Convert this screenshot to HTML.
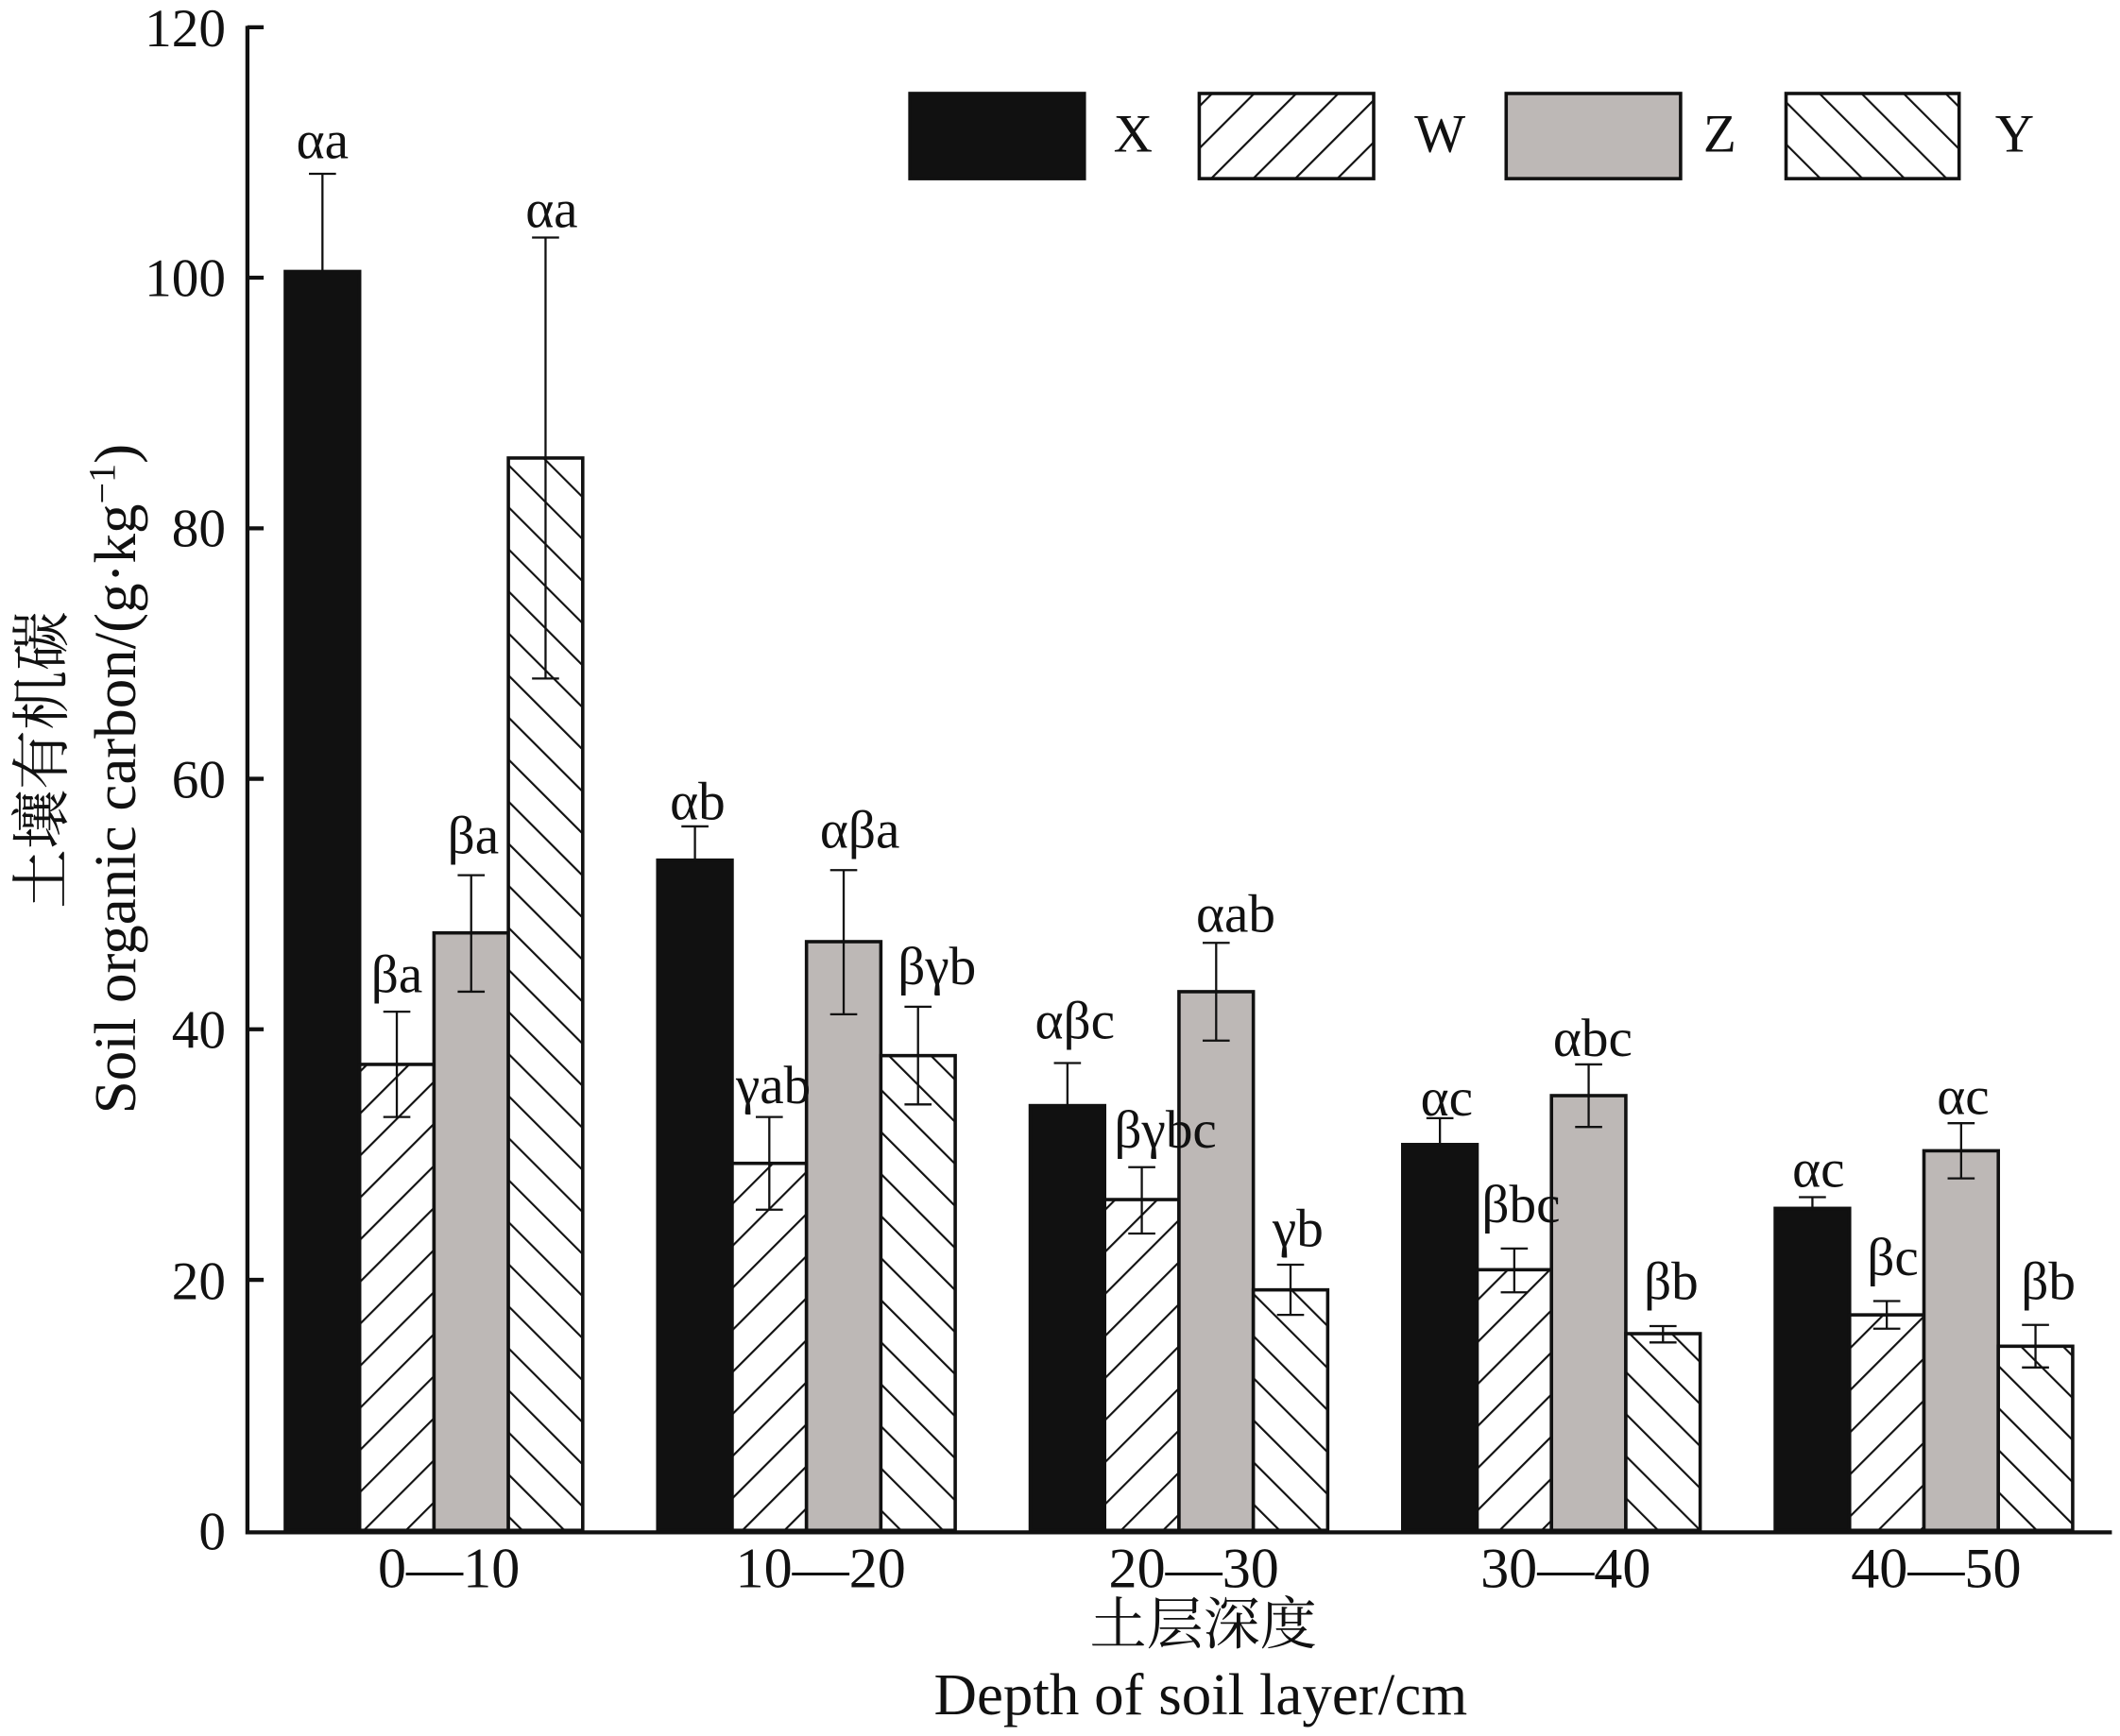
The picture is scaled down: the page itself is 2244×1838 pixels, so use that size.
<!DOCTYPE html>
<html><head><meta charset="utf-8"><style>html,body{margin:0;padding:0;background:#fff}svg{display:block}</style></head><body>
<svg width="2244" height="1838" viewBox="0 0 1568 1284" xmlns="http://www.w3.org/2000/svg" font-family="'Liberation Serif','Noto Serif CJK SC',serif">
<defs>
<pattern id="hw" patternUnits="userSpaceOnUse" width="22" height="22" patternTransform="rotate(45)"><rect width="22" height="22" fill="#fff"/><line x1="0" y1="0" x2="0" y2="22" stroke="#111" stroke-width="3"/></pattern>
<pattern id="hy" patternUnits="userSpaceOnUse" width="22" height="22" patternTransform="rotate(-45)"><rect width="22" height="22" fill="#fff"/><line x1="0" y1="0" x2="0" y2="22" stroke="#111" stroke-width="3"/></pattern>
</defs>
<g stroke="#111" stroke-width="2.5">
<rect x="211" y="200.7" width="55" height="931.3" fill="#111"/>
<rect x="266" y="787.3" width="55" height="344.7" fill="url(#hw)"/>
<rect x="321" y="690" width="55" height="442" fill="#bdb8b6"/>
<rect x="376" y="338.7" width="55" height="793.3" fill="url(#hy)"/>
<rect x="486.5" y="636.2" width="55" height="495.8" fill="#111"/>
<rect x="541.5" y="860.5" width="55" height="271.5" fill="url(#hw)"/>
<rect x="596.5" y="696.5" width="55" height="435.5" fill="#bdb8b6"/>
<rect x="651.5" y="780.8" width="55" height="351.2" fill="url(#hy)"/>
<rect x="762" y="817.8" width="55" height="314.2" fill="#111"/>
<rect x="817" y="887.3" width="55" height="244.7" fill="url(#hw)"/>
<rect x="872" y="733.5" width="55" height="398.5" fill="#bdb8b6"/>
<rect x="927" y="954.1" width="55" height="177.9" fill="url(#hy)"/>
<rect x="1037.5" y="846.6" width="55" height="285.4" fill="#111"/>
<rect x="1092.5" y="939.2" width="55" height="192.8" fill="url(#hw)"/>
<rect x="1147.5" y="810.4" width="55" height="321.6" fill="#bdb8b6"/>
<rect x="1202.5" y="986.5" width="55" height="145.5" fill="url(#hy)"/>
<rect x="1313" y="893.8" width="55" height="238.2" fill="#111"/>
<rect x="1368" y="972.6" width="55" height="159.4" fill="url(#hw)"/>
<rect x="1423" y="851.2" width="55" height="280.8" fill="#bdb8b6"/>
<rect x="1478" y="995.8" width="55" height="136.2" fill="url(#hy)"/>
</g>
<g stroke="#111" stroke-width="1.6" fill="none">
<path d="M238.5 200.7V128.4M228.5 128.4h20"/>
<path d="M293.5 826.2V748.3M283.5 748.3h20M283.5 826.2h20"/>
<path d="M348.5 733.5V647.3M338.5 647.3h20M338.5 733.5h20"/>
<path d="M403.5 501.8V175.6M393.5 175.6h20M393.5 501.8h20"/>
<path d="M514 636.2V611.2M504 611.2h20"/>
<path d="M569 894.8V826.2M559 826.2h20M559 894.8h20"/>
<path d="M624 750.2V643.6M614 643.6h20M614 750.2h20"/>
<path d="M679 816.9V744.6M669 744.6h20M669 816.9h20"/>
<path d="M789.5 817.8V786.3M779.5 786.3h20"/>
<path d="M844.5 912.4V863.3M834.5 863.3h20M834.5 912.4h20"/>
<path d="M899.5 769.7V697.4M889.5 697.4h20M889.5 769.7h20"/>
<path d="M954.5 972.6V935.5M944.5 935.5h20M944.5 972.6h20"/>
<path d="M1065 846.6V827.1M1055 827.1h20"/>
<path d="M1120 955.9V923.5M1110 923.5h20M1110 955.9h20"/>
<path d="M1175 833.6V787.3M1165 787.3h20M1165 833.6h20"/>
<path d="M1230 993V980.9M1220 980.9h20M1220 993h20"/>
<path d="M1340.5 893.8V885.5M1330.5 885.5h20"/>
<path d="M1395.5 982.8V962.4M1385.5 962.4h20M1385.5 982.8h20"/>
<path d="M1450.5 871.6V830.8M1440.5 830.8h20M1440.5 871.6h20"/>
<path d="M1505.5 1011.5V980M1495.5 980h20M1495.5 1011.5h20"/>
</g>
<g stroke="#111" stroke-width="3" fill="none">
<path d="M183 19V1133.5H1562"/>
<path d="M183 20h12M183 205.3h12M183 390.7h12M183 576h12M183 761.3h12M183 946.7h12"/>
</g>
<g font-size="40" fill="#111" text-anchor="end">
<text x="167" y="34">120</text><text x="167" y="219">100</text><text x="167" y="404">80</text>
<text x="167" y="590">60</text><text x="167" y="775">40</text><text x="167" y="961">20</text><text x="167" y="1146">0</text>
</g>
<g font-size="40" fill="#111" text-anchor="middle">
<text x="238.5" y="117">αa</text><text x="293.5" y="734">βa</text><text x="350" y="631">βa</text><text x="408" y="168">αa</text>
<text x="516" y="606">αb</text><text x="572" y="816">γab</text><text x="636" y="627">αβa</text><text x="693" y="728">βγb</text>
<text x="795" y="768">αβc</text><text x="862" y="849">βγbc</text><text x="914" y="689">αab</text><text x="960" y="922">γb</text>
<text x="1070" y="825">αc</text><text x="1125" y="904">βbc</text><text x="1178" y="781">αbc</text><text x="1236" y="961">βb</text>
<text x="1345" y="878">αc</text><text x="1400" y="943">βc</text><text x="1452" y="824">αc</text><text x="1515" y="961">βb</text>
</g>
<g stroke="#111" stroke-width="2.5">
<rect x="673" y="69" width="129" height="63" fill="#111"/>
<rect x="887" y="69" width="129" height="63" fill="url(#hw)"/>
<rect x="1114" y="69" width="129" height="63" fill="#bdb8b6"/>
<rect x="1321" y="69" width="128" height="63" fill="url(#hy)"/>
</g>
<g font-size="40" fill="#111" text-anchor="middle">
<text x="838" y="112">X</text><text x="1065" y="112">W</text><text x="1272" y="112">Z</text><text x="1490" y="112">Y</text>
</g>
<g font-size="42" fill="#111" text-anchor="middle">
<text x="332" y="1174">0—10</text><text x="607" y="1174">10—20</text><text x="883" y="1174">20—30</text>
<text x="1158" y="1174">30—40</text><text x="1432" y="1174">40—50</text>
<text x="890" y="1216" font-family="'Noto Serif CJK SC','Noto Sans CJK SC',serif" font-size="42">土层深度</text>
<text x="888" y="1268" font-size="44">Depth of soil layer/cm</text>
</g>
<g fill="#111" text-anchor="middle">
<text transform="translate(46,562) rotate(-90)" font-size="44" font-family="'Noto Serif CJK SC','Noto Sans CJK SC',serif">土壤有机碳</text>
<text transform="translate(100,576) rotate(-90)" font-size="44">Soil organic carbon/(g·kg<tspan dy="-15" font-size="28">−1</tspan><tspan dy="15">)</tspan></text>
</g>
</svg>
</body></html>
